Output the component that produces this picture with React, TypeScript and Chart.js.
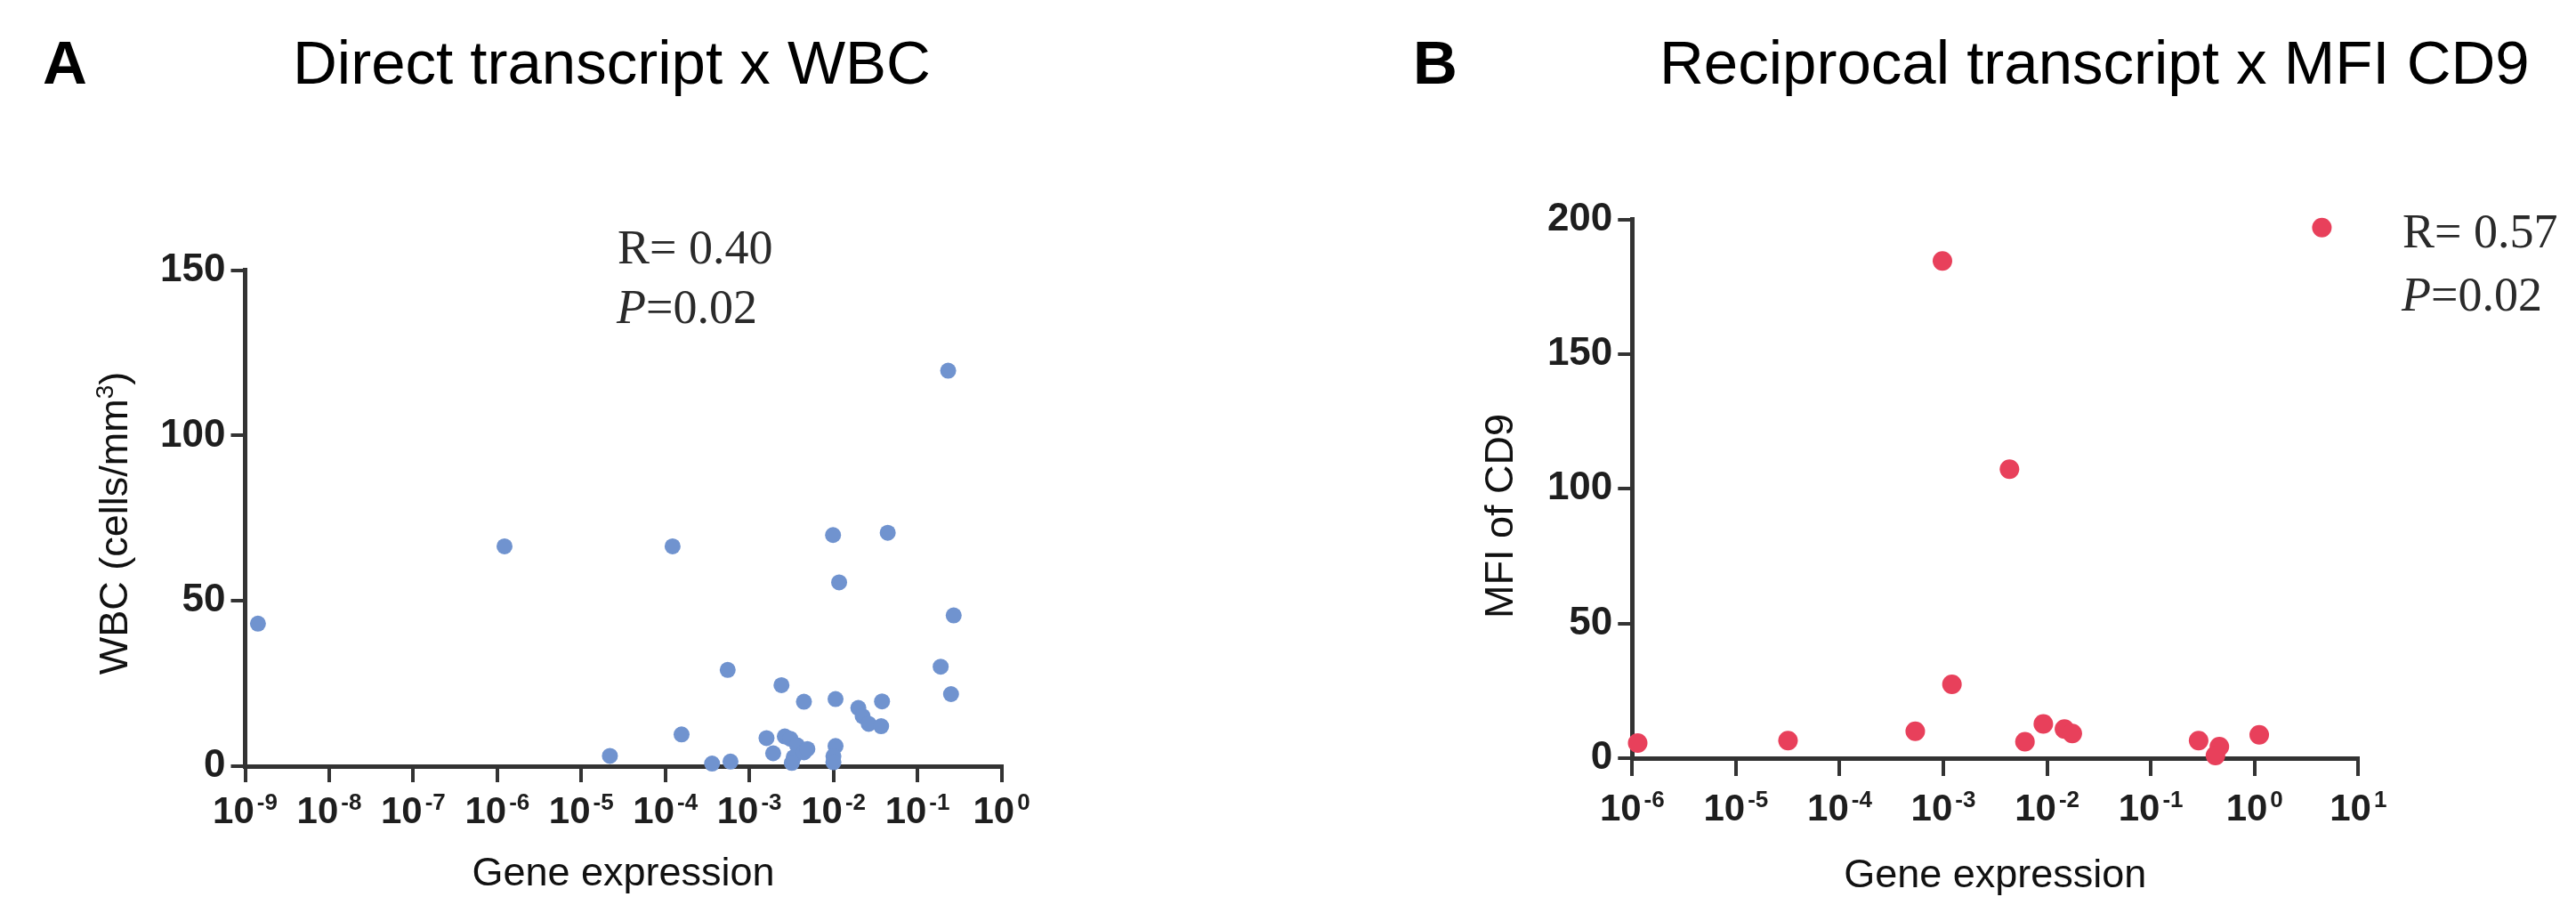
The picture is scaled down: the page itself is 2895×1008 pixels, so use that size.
import React, { useEffect, useRef } from "react";
import { Chart, registerables } from "chart.js";

Chart.register(...registerables);

const SANS = "'Liberation Sans', Arial, sans-serif";
const NARROW = "'Liberation Sans Narrow', 'Liberation Sans', Arial, sans-serif";
const SERIF = "'Liberation Serif', 'Times New Roman', serif";
const AXIS = "#333333";
const LABEL = "#1e1e1e";

// ---------- Panel A : Direct transcript x WBC ----------
const titleA = "Direct transcript x WBC";
const xTitleA = "Gene expression";
const yTitleA = "WBC (cells/mm";
const yTitleSupA = "3";
const statRA = "R= 0.40";
const statPA = "=0.02";
const yTicksA = [0, 50, 100, 150];
const xExpA = [-9, -8, -7, -6, -5, -4, -3, -2, -1, 0];
const geneExprA = [
  1.42e-9, 1.22e-6, 2.19e-5, 1.22e-4, 1.56e-4, 3.6e-4, 5.96e-4, 5.52e-4,
  1.6e-3, 1.92e-3, 2.41e-3, 2.64e-3, 3.07e-3, 3.7e-3, 3.37e-3, 3.2e-3,
  4.47e-3, 4.9e-3, 4.46e-3, 9.9e-3, 1.17e-2, 1.06e-2, 1.06e-2, 1.0e-2,
  1.0e-2, 4.43e-2, 3.79e-2, 1.98e-2, 2.23e-2, 2.63e-2, 3.7e-2, 0.232,
  0.27, 0.189, 0.251,
];
const wbcA = [
  43.1, 66.5, 3.1, 66.5, 9.6, 0.8, 1.4, 29.1,
  8.5, 3.9, 24.5, 9.0, 8.3, 6.3, 2.7, 1.0,
  4.2, 5.2, 19.5, 69.9, 55.6, 20.3, 6.1, 3.0,
  1.2, 70.6, 19.6, 17.6, 15.1, 12.8, 12.1, 119.6,
  45.6, 30.1, 21.8,
];

// ---------- Panel B : Reciprocal transcript x MFI CD9 ----------
const titleB = "Reciprocal transcript x MFI CD9";
const xTitleB = "Gene expression";
const yTitleB = "MFI of CD9";
const statRB = "R= 0.57";
const statPB = "=0.02";
const yTicksB = [0, 50, 100, 150, 200];
const xExpB = [-6, -5, -4, -3, -2, -1, 0, 1];
const geneExprB = [
  1.13e-6, 3.18e-5, 5.36e-4, 9.8e-4, 1.21e-3, 4.34e-3, 6.12e-3, 9.2e-3,
  1.47e-2, 1.75e-2, 0.289, 0.458, 0.42, 1.11, 4.46,
];
const mfiB = [
  5.6, 6.5, 10.0, 184.6, 27.4, 107.3, 6.1, 12.7,
  10.8, 9.2, 6.5, 4.3, 1.0, 8.7, 197,
];

type Panel = {
  letter: string;
  title: string;
  xTitle: string;
  yTitle: string;
  yTitleSup: string;
  statR: string;
  statP: string;
  xs: number[];
  ys: number[];
  xExp: number[];
  yTicks: number[];
  color: string;
  radius: number;
  w: number;
  h: number;
  area: { left: number; right: number; top: number; bottom: number };
  letterX: number;
  titleX: number;
  titleBase: number;
  xLabBase: number;
  xExpBase: number;
  xTitleBase: number;
  yTitleX: number;
  yTitleY: number;
  statX: number;
  statRBase: number;
  statPBase: number;
  xTickLen: number;
};

function textPlugin(p: Panel) {
  return {
    id: "panelText" + p.letter,
    afterDraw(chart: any) {
      const ctx = chart.ctx as CanvasRenderingContext2D;
      const ca = chart.chartArea;
      ctx.save();
      ctx.textAlign = "left";
      ctx.textBaseline = "alphabetic";

      // panel letter and title
      ctx.fillStyle = "#000";
      ctx.font = `bold 69px ${SANS}`;
      ctx.fillText(p.letter, p.letterX, p.titleBase);
      ctx.font = `69px ${SANS}`;
      ctx.fillText(p.title, p.titleX, p.titleBase);

      // x tick labels 10^n
      const xs = chart.scales.x;
      ctx.fillStyle = LABEL;
      p.xExp.forEach((e) => {
        const px = xs.getPixelForValue(Math.pow(10, e));
        const big = `bold 42px ${NARROW}`;
        const small = `bold 26px ${NARROW}`;
        const es = e < 0 ? "-" + Math.abs(e) : String(e);
        ctx.font = big;
        const w1 = ctx.measureText("10").width;
        ctx.font = small;
        const w2 = ctx.measureText(es).width;
        const gap = 3;
        const start = px - (w1 + gap + w2) / 2;
        ctx.font = big;
        ctx.fillText("10", start, p.xLabBase);
        ctx.font = small;
        ctx.fillText(es, start + w1 + gap, p.xExpBase);
      });

      // x axis title
      ctx.fillStyle = "#111";
      ctx.font = `45px ${SANS}`;
      ctx.textAlign = "center";
      ctx.fillText(p.xTitle, (ca.left + ca.right) / 2, p.xTitleBase);

      // y axis title (rotated)
      ctx.textAlign = "left";
      ctx.save();
      ctx.translate(p.yTitleX, p.yTitleY);
      ctx.rotate(-Math.PI / 2);
      const main = `45px ${SANS}`;
      const sup = `28px ${SANS}`;
      ctx.font = main;
      const wMain = ctx.measureText(p.yTitle).width;
      let wSup = 0;
      let wClose = 0;
      if (p.yTitleSup) {
        ctx.font = sup;
        wSup = ctx.measureText(p.yTitleSup).width;
        ctx.font = main;
        wClose = ctx.measureText(")").width;
      }
      const total = wMain + wSup + wClose;
      let cx = -total / 2;
      ctx.font = main;
      ctx.fillText(p.yTitle, cx, 0);
      cx += wMain;
      if (p.yTitleSup) {
        ctx.font = sup;
        ctx.fillText(p.yTitleSup, cx, -16);
        cx += wSup;
        ctx.font = main;
        ctx.fillText(")", cx, 0);
      }
      ctx.restore();

      // statistics
      ctx.fillStyle = "#2a2a2a";
      ctx.font = `54px ${SERIF}`;
      ctx.fillText(p.statR, p.statX + 1, p.statRBase);
      ctx.font = `italic 54px ${SERIF}`;
      ctx.fillText("P", p.statX, p.statPBase);
      const wp = ctx.measureText("P").width;
      ctx.font = `54px ${SERIF}`;
      ctx.fillText(p.statP, p.statX + wp, p.statPBase);

      ctx.restore();
    },
  };
}

function makeChart(canvas: HTMLCanvasElement, p: Panel) {
  const yW = 100;
  const xH = 60;
  const last = p.xExp.length - 1;
  return new Chart(canvas, {
    type: "scatter",
    data: {
      datasets: [
        {
          data: p.xs.map((x, i) => ({ x, y: p.ys[i] })),
          backgroundColor: p.color,
          borderWidth: 0,
          pointRadius: p.radius,
          pointHoverRadius: p.radius,
          clip: false,
        } as any,
      ],
    },
    options: {
      responsive: false,
      animation: false,
      devicePixelRatio: 1,
      layout: {
        padding: {
          left: p.area.left - yW,
          right: p.w - p.area.right,
          top: p.area.top,
          bottom: p.h - p.area.bottom - xH,
        },
      },
      plugins: { legend: { display: false }, tooltip: { enabled: false }, title: { display: false } },
      scales: {
        x: {
          type: "logarithmic",
          min: Math.pow(10, p.xExp[0]),
          max: Math.pow(10, p.xExp[last]),
          afterBuildTicks: (s: any) => {
            s.ticks = p.xExp.map((e) => ({ value: Math.pow(10, e) }));
          },
          afterFit: (s: any) => {
            s.height = xH;
          },
          ticks: { display: false },
          grid: {
            drawOnChartArea: false,
            drawTicks: true,
            tickLength: p.xTickLen,
            lineWidth: 4,
            color: AXIS,
          },
          border: { display: true, width: 5, color: AXIS },
        },
        y: {
          type: "linear",
          min: p.yTicks[0],
          max: p.yTicks[p.yTicks.length - 1],
          afterBuildTicks: (s: any) => {
            s.ticks = p.yTicks.map((v) => ({ value: v }));
          },
          afterFit: (s: any) => {
            s.width = yW;
          },
          ticks: {
            font: { family: NARROW, size: 44, weight: "bold" },
            color: LABEL,
            padding: 6,
          },
          grid: {
            drawOnChartArea: false,
            drawTicks: true,
            tickLength: 16,
            lineWidth: 4,
            color: AXIS,
          },
          border: { display: true, width: 5, color: AXIS },
        },
      },
    } as any,
    plugins: [textPlugin(p)],
  });
}

const panelA: Panel = {
  letter: "A",
  title: titleA,
  xTitle: xTitleA,
  yTitle: yTitleA,
  yTitleSup: yTitleSupA,
  statR: statRA,
  statP: statPA,
  xs: geneExprA,
  ys: wbcA,
  xExp: xExpA,
  yTicks: yTicksA,
  color: "#7093cf",
  radius: 9,
  w: 1450,
  h: 1008,
  area: { left: 275.5, right: 1125.5, top: 303.6, bottom: 861 },
  letterX: 48,
  titleX: 329,
  titleBase: 94,
  xLabBase: 925,
  xExpBase: 910,
  xTitleBase: 995,
  yTitleX: 143,
  yTitleY: 588,
  statX: 693,
  statRBase: 296,
  statPBase: 363,
  xTickLen: 18,
};

const panelB: Panel = {
  letter: "B",
  title: titleB,
  xTitle: xTitleB,
  yTitle: yTitleB,
  yTitleSup: "",
  statR: statRB,
  statP: statPB,
  xs: geneExprB,
  ys: mfiB,
  xExp: xExpB,
  yTicks: yTicksB,
  color: "#e8405b",
  radius: 11,
  w: 1445,
  h: 1008,
  area: { left: 384.3, right: 1200.3, top: 246.7, bottom: 852 },
  letterX: 138,
  titleX: 415,
  titleBase: 94,
  xLabBase: 922,
  xExpBase: 907,
  xTitleBase: 997,
  yTitleX: 250,
  yTitleY: 580,
  statX: 1249,
  statRBase: 278,
  statPBase: 349,
  xTickLen: 20,
};

export default function App() {
  const refA = useRef<HTMLCanvasElement | null>(null);
  const refB = useRef<HTMLCanvasElement | null>(null);

  useEffect(() => {
    const charts: Chart[] = [];
    if (refA.current) charts.push(makeChart(refA.current, panelA));
    if (refB.current) charts.push(makeChart(refB.current, panelB));
    return () => {
      charts.forEach((c) => c.destroy());
    };
  }, []);

  return (
    <div
      style={{
        position: "fixed",
        left: 0,
        top: 0,
        width: 2895,
        height: 1008,
        background: "#ffffff",
        overflow: "hidden",
      }}
    >
      <canvas
        ref={refA}
        width={1450}
        height={1008}
        style={{ position: "absolute", left: 0, top: 0, width: 1450, height: 1008 }}
      />
      <canvas
        ref={refB}
        width={1445}
        height={1008}
        style={{ position: "absolute", left: 1450, top: 0, width: 1445, height: 1008 }}
      />
    </div>
  );
}
